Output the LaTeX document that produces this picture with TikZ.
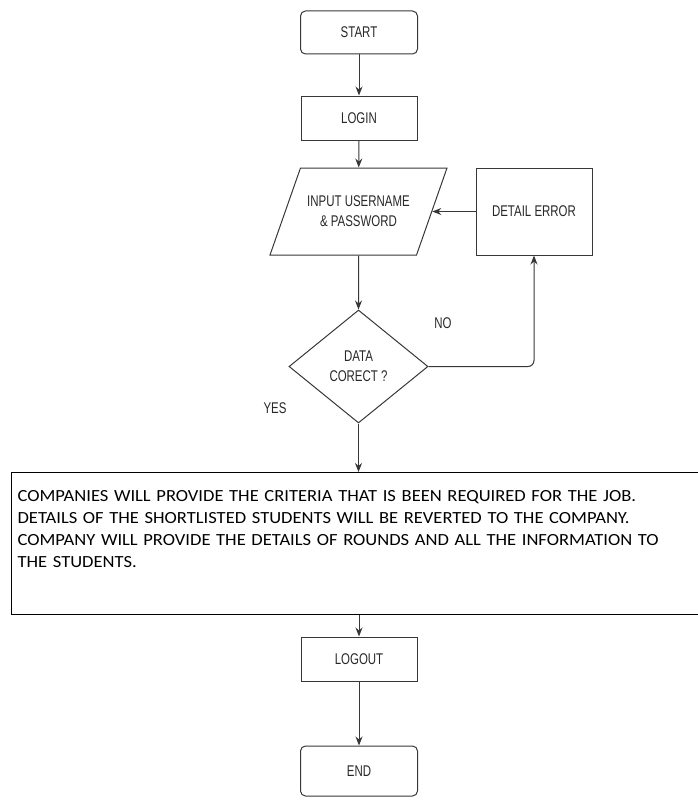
\documentclass[tikz,border=0pt]{standalone}
\usepackage{fontspec}
\setmainfont{Liberation Sans}
\newfontfamily\chartfont[FakeStretch=0.74]{Liberation Sans}
\newfontfamily\notefont[FakeStretch=1.09]{Carlito}
\usetikzlibrary{shapes.geometric, arrows.meta, positioning}
\definecolor{chartline}{RGB}{55,55,55}
\definecolor{charttext}{RGB}{40,40,40}
\tikzset{
  chart/.style={draw=chartline, line width=1pt, text=charttext, font=\chartfont\fontsize{15.5}{20}\selectfont, align=center},
  termbox/.style={chart, rectangle, rounded corners=5pt, minimum width=117pt, minimum height=43pt},
  procbox/.style={chart, rectangle, minimum width=116pt, minimum height=44pt},
  iobox/.style={chart, trapezium, trapezium left angle=51, trapezium right angle=129, trapezium stretches body, minimum width=177pt, minimum height=87pt},
  decbox/.style={chart, diamond, minimum width=139pt, minimum height=113pt, inner sep=0pt},
  flow/.style={draw=chartline, line width=1pt, -{Stealth[length=9pt, width=7pt]}},
  tag/.style={text=charttext, font=\chartfont\fontsize{15.5}{20}\selectfont}
}

\begin{document}
\begin{tikzpicture}[x=1pt, y=-1pt]
  \useasboundingbox (0,0) rectangle (698,800);

  \node[termbox] (start) at (359,32.5) {START};
  \node[procbox] (login) at (359,118) {LOGIN};
  \node[iobox] (input) at (358.5,211.5) {INPUT USERNAME\\\& PASSWORD};
  \node[procbox, minimum height=87pt] (error) at (534,211.5) {DETAIL ERROR};
  \node[decbox] (check) at (358.5,366.5) {DATA\\CORECT ?};
  \node[tag] (no) at (443,323) {NO};
  \node[tag] (yes) at (275,408) {YES};
  \node[draw=black, line width=1.2pt, anchor=north west, text width=697pt, align=left,
        inner xsep=6pt, inner ysep=18pt, text depth=95pt,
        font=\notefont\fontsize{17}{22}\selectfont] (task) at (11,472) {
    COMPANIES WILL PROVIDE THE CRITERIA THAT IS BEEN REQUIRED FOR THE JOB.\\
    DETAILS OF THE SHORTLISTED STUDENTS WILL BE REVERTED TO THE COMPANY.\\
    COMPANY WILL PROVIDE THE DETAILS OF ROUNDS AND ALL THE INFORMATION TO\\
    THE STUDENTS.
  };
  \node[procbox] (logout) at (359,659) {LOGOUT};
  \node[termbox, minimum height=50pt] (finish) at (359,771) {END};

  \draw[flow] (start) -- (login);
  \draw[flow] (login) -- (input);
  \draw[flow] (error.west) -- (input.east);
  \draw[flow] (input) -- (check);
  \draw[flow, rounded corners=6pt] (check.east) -| (error.south);
  \draw[flow] (check.south) -- (check.south |- task.north);
  \draw[flow] (logout.north |- task.south) -- (logout.north);
  \draw[flow] (logout) -- (finish);
\end{tikzpicture}
\end{document}
